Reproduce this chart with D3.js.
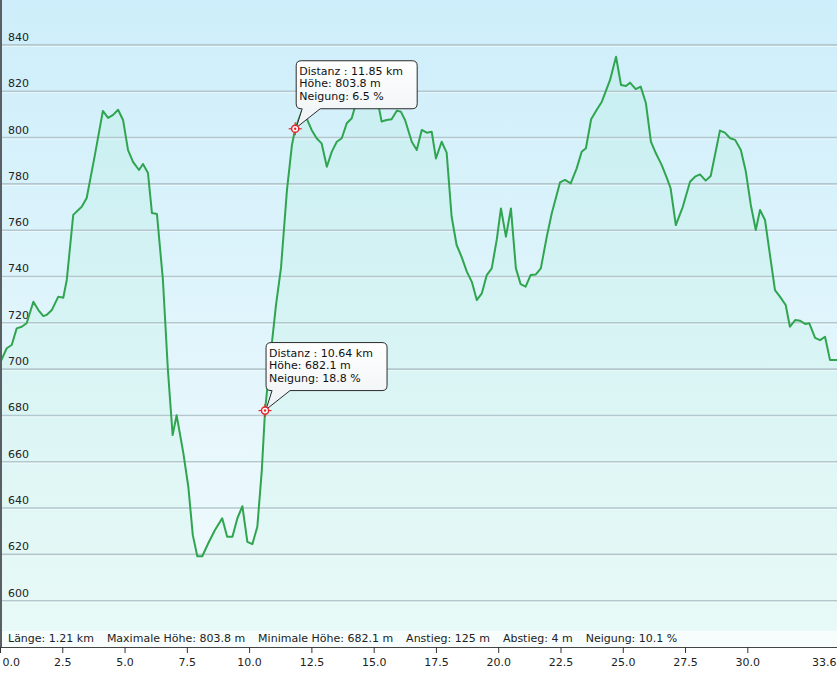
<!DOCTYPE html>
<html><head><meta charset="utf-8">
<script src="https://cdn.jsdelivr.net/npm/d3@7"></script>
<style>
html,body{margin:0;padding:0;background:#fff;}
svg{display:block;font-family:"DejaVu Sans",Verdana,sans-serif;}
</style></head>
<body>
<svg id="chart" width="837" height="675"></svg>
<script>
// ---- data ----
const distanceKm = [0.00,0.27,0.47,0.67,0.87,1.07,1.34,1.54,1.74,1.87,2.08,2.34,2.54,2.68,2.94,3.28,3.48,3.81,4.13,4.34,4.54,4.74,4.94,5.14,5.34,5.58,5.74,5.94,6.10,6.30,6.54,6.74,6.93,7.09,7.36,7.56,7.74,7.92,8.12,8.36,8.63,8.92,9.12,9.33,9.53,9.73,9.93,10.13,10.33,10.51,10.64,10.84,11.08,11.28,11.52,11.72,11.85,12.11,12.31,12.51,12.71,12.91,13.12,13.32,13.52,13.72,13.92,14.12,14.25,14.45,14.69,14.93,15.19,15.32,15.52,15.72,15.93,16.09,16.26,16.53,16.73,16.93,17.13,17.33,17.50,17.73,17.93,18.13,18.33,18.53,18.74,18.94,19.14,19.34,19.54,19.74,19.94,20.11,20.31,20.51,20.71,20.90,21.10,21.30,21.51,21.71,21.95,22.15,22.48,22.68,22.91,23.15,23.35,23.52,23.73,23.95,24.16,24.49,24.73,24.93,25.13,25.29,25.52,25.72,25.93,26.13,26.33,26.56,26.76,26.92,27.13,27.41,27.70,27.90,28.10,28.33,28.53,28.90,29.10,29.31,29.51,29.74,29.94,30.14,30.34,30.51,30.71,31.11,31.31,31.54,31.71,31.92,32.12,32.32,32.49,32.72,32.92,33.12,33.32,33.60];
const elevationM = [702.6,709.0,710.4,717.6,718.3,719.8,729.1,725.5,722.9,723.4,725.5,731.3,730.8,738.5,766.6,770.1,773.9,792.5,811.5,808.5,809.8,812.0,807.6,794.6,789.5,786.0,788.6,784.7,767.4,767.0,738.5,699.6,671.5,680.1,663.7,649.2,628.3,619.2,619.2,624.8,630.5,635.6,627.6,627.6,635.6,640.8,625.4,624.4,631.9,656.4,682.1,703.9,727.7,743.7,777.4,796.8,803.8,811.2,808.3,803.3,799.7,797.5,787.4,793.9,798.2,799.7,806.2,808.3,813.3,818.0,819.7,817.5,814.1,806.9,807.6,807.9,811.6,811.2,807.6,798.2,794.6,803.3,802.1,802.5,791.0,798.2,793.5,765.8,753.6,748.5,742.1,737.7,729.8,732.7,740.6,743.5,755.8,769.4,757.2,769.4,743.5,736.7,735.6,740.6,740.9,743.5,757.2,767.3,780.6,781.7,780.2,786.7,793.9,795.4,807.9,811.9,815.5,824.9,834.9,822.7,822.3,823.7,820.9,822.0,814.8,798.2,793.2,788.2,782.8,778.1,762.2,770.1,780.9,783.1,784.1,781.4,783.4,803.0,802.1,799.7,799.0,794.6,785.3,770.9,760.1,768.7,764.4,734.1,731.3,727.7,718.3,721.2,720.9,719.5,719.8,713.5,712.5,714.0,703.9,703.9];

const yTickValues = [600,620,640,660,680,700,720,740,760,780,800,820,840];
const xTickValues = [0,2.5,5,7.5,10,12.5,15,17.5,20,22.5,25,27.5,30,33.6];
const xTickLabels = ["0.0","2.5","5.0","7.5","10.0","12.5","15.0","17.5","20.0","22.5","25.0","27.5","30.0","33.6"];

const markerKm = [10.64, 11.85];
const markerElev = [682.1, 803.8];
const markerSlope = ["18.8", "6.5"];

const statsLabels = ["Länge: 1.21 km","Maximale Höhe: 803.8 m","Minimale Höhe: 682.1 m","Anstieg: 125 m","Abstieg: 4 m","Neigung: 10.1 %"];

// ---- layout ----
const W = 837, plotBottom = 647;
const svg = d3.select("#chart");
const x = d3.scaleLinear().domain([0, 33.6]).range([0, W]);
const y = d3.scaleLinear().domain([580, 859.4]).range([plotBottom, 0]);

const defs = svg.append("defs");
const bg = defs.append("linearGradient").attr("id","bg").attr("x1",0).attr("y1",0).attr("x2",0).attr("y2",1);
bg.append("stop").attr("offset","0%").attr("stop-color","#cdeefa");
bg.append("stop").attr("offset","100%").attr("stop-color","#f3fbfd");
const ag = defs.append("linearGradient").attr("id","ag").attr("x1",0).attr("y1",0).attr("x2",0).attr("y2",1);
ag.append("stop").attr("offset","0%").attr("stop-color","#8ee8b8").attr("stop-opacity",0.13);
ag.append("stop").attr("offset","100%").attr("stop-color","#a6f2cc").attr("stop-opacity",0.13);
const cg = defs.append("linearGradient").attr("id","cg").attr("x1",0).attr("y1",0).attr("x2",0).attr("y2",1);
cg.append("stop").attr("offset","0%").attr("stop-color","#ffffff");
cg.append("stop").attr("offset","100%").attr("stop-color","#eef2f4");

svg.append("rect").attr("x",0).attr("y",0).attr("width",W).attr("height",plotBottom).attr("fill","url(#bg)");

const data = distanceKm.map((d,i)=>({km:d, e:elevationM[i]}));

// area
svg.append("path").datum(data)
  .attr("d", d3.area().x(d=>x(d.km)).y0(plotBottom).y1(d=>y(d.e)))
  .attr("fill","url(#ag)");

// gridlines
const grid = svg.append("g");
grid.selectAll("line.g").data(yTickValues).join("line")
  .attr("x1",0).attr("x2",W).attr("y1",d=>y(d)).attr("y2",d=>y(d))
  .attr("stroke","#b3c8ce").attr("stroke-width",1.6);
grid.selectAll("line.h").data(yTickValues).join("line")
  .attr("x1",0).attr("x2",W).attr("y1",d=>y(d)+1.5).attr("y2",d=>y(d)+1.5)
  .attr("stroke","#ffffff").attr("stroke-opacity",0.5).attr("stroke-width",1);
grid.selectAll("text").data(yTickValues).join("text")
  .attr("x",8).attr("y",d=>y(d)-4).attr("font-size",11).attr("fill","#222").text(d=>d);

// line
svg.append("path").datum(data)
  .attr("d", d3.line().x(d=>x(d.km)).y(d=>y(d.e)))
  .attr("fill","none").attr("stroke","#30a550").attr("stroke-width",2).attr("stroke-linejoin","round");

// stats band
svg.append("rect").attr("x",0).attr("y",631).attr("width",W).attr("height",plotBottom-631)
  .attr("fill","#ffffff").attr("fill-opacity",0.6);
const stats = svg.append("g").attr("font-size",11).attr("fill","#222");
let sx = 8;
statsLabels.forEach(s=>{
  const t = stats.append("text").attr("x",sx).attr("y",642).text(s);
  sx += t.node().getComputedTextLength() + 13;
});

// left border
svg.append("rect").attr("x",0).attr("y",0).attr("width",2).attr("height",plotBottom).attr("fill","#5a5f63");

// x axis
const xAxis = d3.axisBottom(x).tickValues(xTickValues).tickSize(6).tickFormat((d,i)=>xTickLabels[i]);
const ax = svg.append("g").attr("transform",`translate(0,${plotBottom})`).call(xAxis);
ax.select(".domain").attr("stroke","#444").attr("d",`M0,0.5H${W}`);
ax.selectAll(".tick line").attr("stroke","#333");
ax.selectAll(".tick text").attr("font-size",11).attr("fill","#222").attr("dy",0).attr("y",19)
  .attr("font-family","DejaVu Sans, Verdana, sans-serif");
ax.selectAll(".tick text").filter((d,i)=>i===0).attr("text-anchor","start").attr("x",2);
ax.selectAll(".tick text").filter((d,i)=>i===xTickValues.length-1).attr("text-anchor","end").attr("x",-1);

// callouts
markerKm.forEach((k,i)=>{
  const mx = x(k), my = y(markerElev[i]);
  const bx = mx+1, by = my-68, bw = 121, bh = 48, r = 5;
  const p = d3.path();
  p.moveTo(bx+r, by);
  p.lineTo(bx+bw-r, by); p.quadraticCurveTo(bx+bw, by, bx+bw, by+r);
  p.lineTo(bx+bw, by+bh-r); p.quadraticCurveTo(bx+bw, by+bh, bx+bw-r, by+bh);
  p.lineTo(bx+24, by+bh); p.lineTo(mx+1, my-1); p.lineTo(bx+6, by+bh);
  p.lineTo(bx+r, by+bh); p.quadraticCurveTo(bx, by+bh, bx, by+bh-r);
  p.lineTo(bx, by+r); p.quadraticCurveTo(bx, by, bx+r, by);
  p.closePath();
  svg.append("path").attr("d",p.toString()).attr("fill","url(#cg)").attr("stroke","#2a2a2a").attr("stroke-width",1);
  const lines = [`Distanz : ${k.toFixed(2)} km`, `Höhe: ${markerElev[i].toFixed(1)} m`, `Neigung: ${markerSlope[i]} %`];
  lines.forEach((l,j)=>{
    svg.append("text").attr("x",bx+3).attr("y",by+14+j*12.6).attr("font-size",11).attr("fill","#111").text(l);
  });
  const m = svg.append("g").attr("transform",`translate(${mx},${my})`);
  m.append("circle").attr("r",3.6).attr("fill","#fff").attr("stroke","#e5262b").attr("stroke-width",1.5);
  m.append("circle").attr("r",1.2).attr("fill","#e5262b");
  [[-6.5,0,-3.6,0],[3.6,0,6.5,0],[0,-6.5,0,-3.6],[0,3.6,0,6.5]].forEach(a=>{
    m.append("line").attr("x1",a[0]).attr("y1",a[1]).attr("x2",a[2]).attr("y2",a[3]).attr("stroke","#e5262b").attr("stroke-width",1.2);
  });
});
</script>
</body></html>
